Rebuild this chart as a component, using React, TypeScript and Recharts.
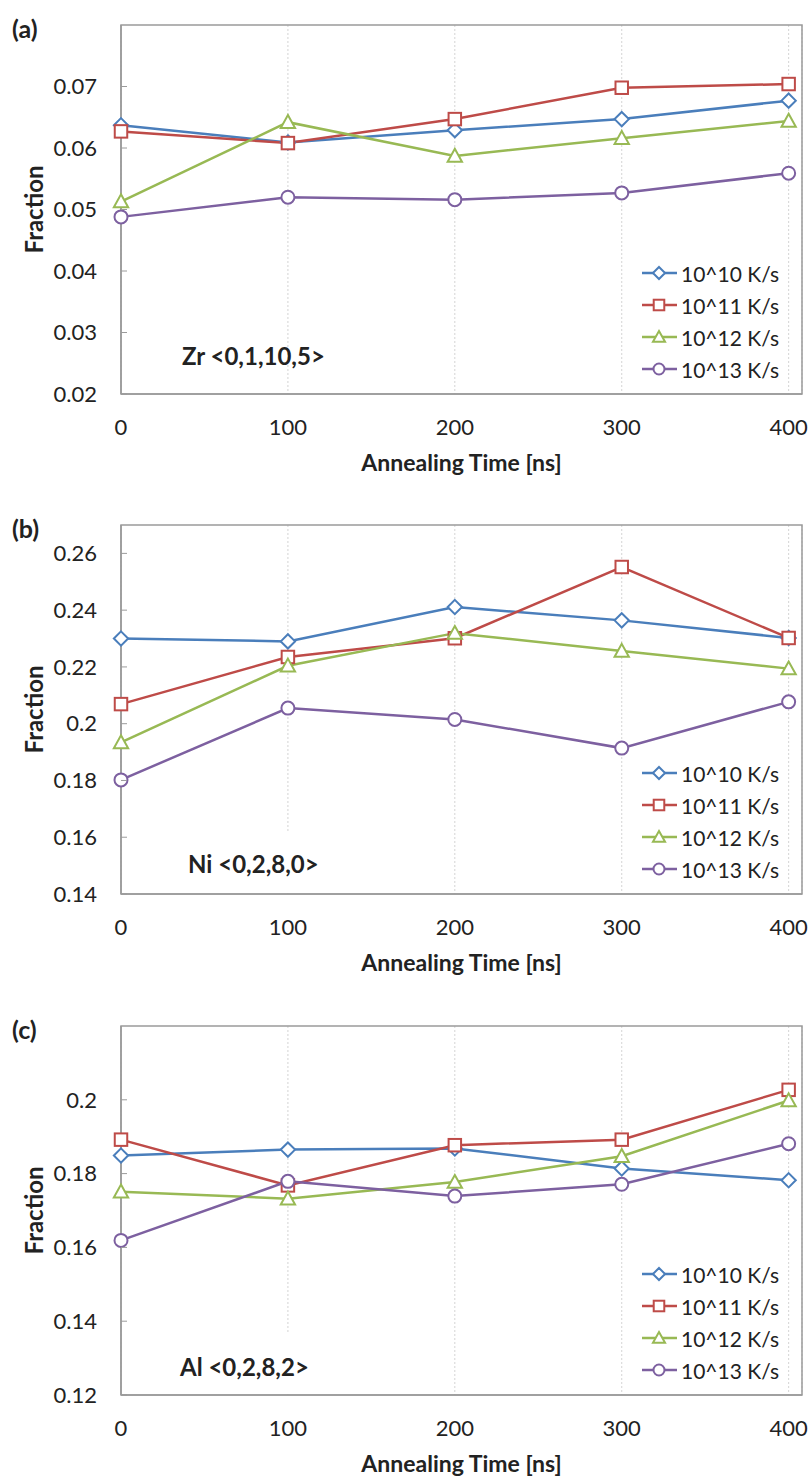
import React from "react";
import {
  LineChart,
  Line,
  XAxis,
  YAxis,
  CartesianGrid,
  Legend,
  ReferenceArea,
  Label,
} from "recharts";

const times = [0, 100, 200, 300, 400];
const seriesNames = ["10^10 K/s", "10^11 K/s", "10^12 K/s", "10^13 K/s"];
const timeTicks = [0, 100, 200, 300, 400];

// (a) Zr <0,1,10,5>
const zrRate10 = [0.0637, 0.0609, 0.0629, 0.0647, 0.0677];
const zrRate11 = [0.0627, 0.0608, 0.0647, 0.0698, 0.0704];
const zrRate12 = [0.0513, 0.0642, 0.0587, 0.0616, 0.0644];
const zrRate13 = [0.0488, 0.052, 0.0516, 0.0527, 0.0559];
const zrTicks = [0.02, 0.03, 0.04, 0.05, 0.06, 0.07];

// (b) Ni <0,2,8,0>
const niRate10 = [0.23, 0.229, 0.2411, 0.2364, 0.2302];
const niRate11 = [0.2069, 0.2235, 0.2301, 0.2552, 0.2302];
const niRate12 = [0.1934, 0.2204, 0.2319, 0.2256, 0.2194];
const niRate13 = [0.1802, 0.2055, 0.2015, 0.1914, 0.2077];
const niTicks = [0.14, 0.16, 0.18, 0.2, 0.22, 0.24, 0.26];

// (c) Al <0,2,8,2>
const alRate10 = [0.1849, 0.1865, 0.1868, 0.1814, 0.1782];
const alRate11 = [0.1892, 0.1768, 0.1877, 0.1892, 0.2027];
const alRate12 = [0.1751, 0.1732, 0.1777, 0.1847, 0.1998];
const alRate13 = [0.1619, 0.1779, 0.1739, 0.1771, 0.1881];
const alTicks = [0.12, 0.14, 0.16, 0.18, 0.2];

const FONT = "Lato, 'Open Sans', sans-serif";
const TEXT = "#222";
const AXIS = "#9a9a9a";

const series = [
  { key: "r10", color: "#4A7EBB", shape: "diamond" },
  { key: "r11", color: "#BE4B48", shape: "square" },
  { key: "r12", color: "#98B954", shape: "triangle" },
  { key: "r13", color: "#7D60A0", shape: "circle" },
];

const panels = [
  {
    tag: "(a)",
    note: "Zr <0,1,10,5>",
    noteX: 182,
    noteY: 332,
    noteBox: false,
    top: 0,
    domain: [0.02, 0.08],
    ticks: zrTicks,
    values: [zrRate10, zrRate11, zrRate12, zrRate13],
  },
  {
    tag: "(b)",
    note: "Ni <0,2,8,0>",
    noteX: 188,
    noteY: 340,
    noteBox: true,
    top: 500,
    domain: [0.14, 0.27],
    ticks: niTicks,
    values: [niRate10, niRate11, niRate12, niRate13],
  },
  {
    tag: "(c)",
    note: "Al <0,2,8,2>",
    noteX: 180,
    noteY: 342,
    noteBox: true,
    top: 1001,
    domain: [0.12, 0.22],
    ticks: alTicks,
    values: [alRate10, alRate11, alRate12, alRate13],
  },
];

function Marker({ cx, cy, shape, color, size }: any) {
  const s = size;
  const common = { fill: "#fff", stroke: color, strokeWidth: 2 };
  if (shape === "diamond") {
    const d = s * 0.55;
    return (
      <polygon
        points={`${cx},${cy - d} ${cx + d},${cy} ${cx},${cy + d} ${cx - d},${cy}`}
        {...common}
      />
    );
  }
  if (shape === "square") {
    const h = s * 0.48;
    return <rect x={cx - h} y={cy - h} width={h * 2} height={h * 2} {...common} />;
  }
  if (shape === "triangle") {
    const h = s * 0.55;
    return (
      <polygon
        points={`${cx},${cy - h} ${cx + h},${cy + h * 0.8} ${cx - h},${cy + h * 0.8}`}
        {...common}
      />
    );
  }
  return <circle cx={cx} cy={cy} r={s * 0.5} {...common} />;
}

const fmt = (v: number) => String(Number(v.toFixed(2)));

function YTick(props: any) {
  const { x, y, payload } = props;
  return (
    <g>
      <line x1={x + 24} x2={x + 30} y1={y} y2={y} stroke={AXIS} />
      <text
        x={x}
        y={y}
        dy="0.35em"
        textAnchor="end"
        fill={TEXT}
        fontSize={22}
        fontFamily={FONT}
      >
        {fmt(payload.value)}
      </text>
    </g>
  );
}

function LegendBox() {
  return (
    <div style={{ fontFamily: FONT, fontSize: 21, color: TEXT }}>
      {series.map((s, i) => (
        <div
          key={s.key}
          style={{ display: "flex", alignItems: "center", height: 32 }}
        >
          <svg width={37} height={20}>
            <line x1={1} x2={36} y1={10} y2={10} stroke={s.color} strokeWidth={2.5} />
            <Marker cx={18} cy={10} shape={s.shape} color={s.color} size={11} />
          </svg>
          <span style={{ marginLeft: 3, whiteSpace: "nowrap" }}>{seriesNames[i]}</span>
        </div>
      ))}
    </div>
  );
}

function Panel({ panel }: any) {
  const data = times.map((t, i) => {
    const row: any = { time: t };
    series.forEach((s, j) => {
      row[s.key] = panel.values[j][i];
    });
    return row;
  });

  return (
    <div style={{ position: "absolute", left: 0, top: panel.top }}>
      <LineChart
        width={811}
        height={477}
        data={data}
        margin={{ top: 25, right: 9, left: 0, bottom: 23 }}
      >
        <CartesianGrid
          horizontal={false}
          stroke="#d4d4d4"
          strokeDasharray="2 2"
        />
        <ReferenceArea
          x1={0}
          x2={408}
          y1={panel.domain[0]}
          y2={panel.domain[1]}
          fill="none"
          stroke={AXIS}
          strokeWidth={1.5}
        />
        <XAxis
          dataKey="time"
          type="number"
          domain={[0, 408]}
          ticks={timeTicks}
          height={60}
          tickLine={false}
          tickSize={0}
          tickMargin={25}
          axisLine={{ stroke: AXIS, strokeWidth: 1.5 }}
          tick={{ fill: TEXT, fontSize: 22, fontFamily: FONT }}
        >
          <Label
            content={({ viewBox }: any) => (
              <text
                x={viewBox.x + viewBox.width / 2}
                y={viewBox.y + 77}
                textAnchor="middle"
                fontWeight="bold"
                fontSize={23}
                fontFamily={FONT}
                fill={TEXT}
              >
                Annealing Time [ns]
              </text>
            )}
          />
        </XAxis>
        <YAxis
          type="number"
          domain={panel.domain}
          ticks={panel.ticks}
          width={121}
          tickSize={0}
          tickMargin={24}
          tickLine={false}
          axisLine={{ stroke: AXIS, strokeWidth: 1.5 }}
          tick={<YTick />}
          allowDataOverflow
        >
          <Label
            content={({ viewBox }: any) => (
              <g fontFamily={FONT} fill={TEXT} fontWeight="bold">
                {panel.noteBox && (
                  <rect
                    x={panel.noteX - 16}
                    y={viewBox.y + 308}
                    width={160}
                    height={viewBox.height - 309}
                    fill="#fff"
                  />
                )}
                <text x={12} y={viewBox.y + 4} dy="0.35em" fontSize={25}>
                  {panel.tag}
                </text>
                <text
                  x={35}
                  y={viewBox.y + viewBox.height / 2}
                  dy="0.35em"
                  textAnchor="middle"
                  fontSize={24}
                  transform={`rotate(-90 35 ${viewBox.y + viewBox.height / 2})`}
                >
                  Fraction
                </text>
                <text
                  x={panel.noteX}
                  y={viewBox.y + panel.noteY}
                  dy="0.35em"
                  fontSize={24}
                >
                  {panel.note}
                </text>
              </g>
            )}
          />
        </YAxis>
        <Legend
          layout="vertical"
          align="center"
          verticalAlign="middle"
          wrapperStyle={{ position: "absolute", left: 641, top: 257, width: 170 }}
          content={() => <LegendBox />}
        />
        {series.map((s, j) => (
          <Line
            key={s.key}
            type="linear"
            dataKey={s.key}
            name={seriesNames[j]}
            stroke={s.color}
            strokeWidth={2.5}
            isAnimationActive={false}
            dot={(p: any) => (
              <Marker
                key={`${s.key}-${p.index}`}
                cx={p.cx}
                cy={p.cy}
                shape={s.shape}
                color={s.color}
                size={13}
              />
            )}
          />
        ))}
      </LineChart>
    </div>
  );
}

export default function App() {
  return (
    <div
      style={{
        position: "absolute",
        left: 0,
        top: 0,
        width: 811,
        height: 1478,
        background: "#fff",
        overflow: "hidden",
      }}
    >
      {panels.map((p) => (
        <Panel key={p.tag} panel={p} />
      ))}
    </div>
  );
}
